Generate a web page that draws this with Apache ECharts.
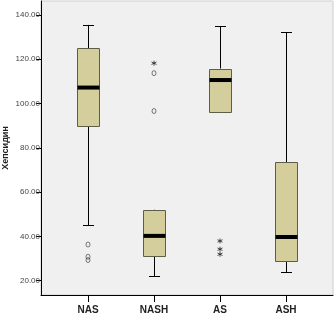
<!DOCTYPE html>
<html lang="en">
<head>
    <meta charset="UTF-8">
    <script src="https://cdn.jsdelivr.net/npm/echarts@6/dist/echarts.min.js"></script>
    <title>Хепсидин</title>
</head>
<body style="margin:0;background:#fff;">
<div id="main" style="width: 334px;height:315px;"></div>
<script type="text/javascript">
    // data
    var categories = ['NAS', 'NASH', 'AS', 'ASH'];
    var whiskerLow = [45.0, 22.0, 96.6, 23.9];
    var q1 = [89.9, 31.0, 96.6, 28.9];
    var median = [107.2, 40.2, 110.6, 39.7];
    var q3 = [125.0, 51.9, 115.8, 73.5];
    var whiskerHigh = [135.5, 52.0, 134.9, 132.2];
    var circleOutliers = [[0, 36.3], [0, 30.8], [0, 29.3], [1, 113.7], [1, 96.6]];
    var starOutliers = [[1, 118.2], [2, 37.9], [2, 34.2], [2, 31.9]];
    var yTicks = [20, 40, 60, 80, 100, 120, 140];
    var yMin = 13.5, yMax = 146.3;

    var boxData = categories.map(function (c, i) {
        return [i, whiskerLow[i], q1[i], median[i], q3[i], whiskerHigh[i]];
    });

    function crisp(v) { return Math.round(v) + 0.5; }

    var myChart = echarts.init(document.getElementById('main'));
    var option = {
        backgroundColor: '#fff',
        animation: false,
        textStyle: { fontFamily: 'Liberation Sans, Arial, sans-serif' },
        grid: [
            { left: 41, right: 1, top: 1, bottom: 20, show: true, backgroundColor: '#f0f0f0', borderColor: '#cfcfcf', borderWidth: 1,
              containLabel: false, outerBoundsMode: 'none' },
            { left: 55, right: 15, top: 1, bottom: 20, containLabel: false, outerBoundsMode: 'none' }
        ],
        xAxis: [
            { gridIndex: 0, type: 'value', min: 0, max: 1, axisLine: { show: true, lineStyle: { color: '#000' } },
              axisTick: { show: false }, axisLabel: { show: false }, splitLine: { show: false } },
            { gridIndex: 1, type: 'category', data: categories, axisLine: { show: false },
              axisTick: { show: true, alignWithLabel: true, length: 7, lineStyle: { color: '#000' } },
              axisLabel: { margin: 10, fontSize: 10, fontWeight: 'bold', color: '#222' } }
        ],
        yAxis: [
            { gridIndex: 0, type: 'value', min: yMin, max: yMax,
              name: 'Хепсидин', nameLocation: 'middle', nameGap: 31, nameMoveOverlap: false,
              nameTextStyle: { fontSize: 9, fontWeight: 'bold', color: '#222' },
              axisLine: { show: true, lineStyle: { color: '#000' } },
              axisTick: { show: true, length: 5, customValues: yTicks, lineStyle: { color: '#000' } },
              axisLabel: { margin: 1, fontSize: 8, color: '#444', customValues: yTicks,
                           formatter: function (v) { return v.toFixed(2); } },
              splitLine: { show: false } },
            { gridIndex: 1, type: 'value', min: yMin, max: yMax, show: false }
        ],
        series: [
            {
                type: 'custom',
                xAxisIndex: 1,
                yAxisIndex: 1,
                data: boxData,
                encode: { x: 0, y: [1, 2, 3, 4, 5] },
                renderItem: function (params, api) {
                    var x = api.value(0);
                    var lo = api.coord([x, api.value(1)]);
                    var b1 = api.coord([x, api.value(2)]);
                    var md = api.coord([x, api.value(3)]);
                    var b3 = api.coord([x, api.value(4)]);
                    var hi = api.coord([x, api.value(5)]);
                    var bw = api.size([1, 0])[0] / 3;
                    var cx = crisp(lo[0]);
                    var line = { stroke: '#000', lineWidth: 1 };
                    return {
                        type: 'group',
                        children: [
                            { type: 'line', shape: { x1: cx, y1: hi[1], x2: cx, y2: b3[1] }, style: line },
                            { type: 'line', shape: { x1: cx, y1: b1[1], x2: cx, y2: lo[1] }, style: line },
                            { type: 'line', shape: { x1: cx - bw / 4, y1: crisp(hi[1]), x2: cx + bw / 4, y2: crisp(hi[1]) }, style: line },
                            { type: 'line', shape: { x1: cx - bw / 4, y1: crisp(lo[1]), x2: cx + bw / 4, y2: crisp(lo[1]) }, style: line },
                            { type: 'rect', shape: { x: cx - bw / 2, y: crisp(b3[1]), width: bw, height: Math.round(b1[1] - b3[1]) },
                              style: { fill: '#d3ce9b', stroke: '#5e5e48', lineWidth: 1 } },
                            { type: 'rect', shape: { x: cx - bw / 2, y: md[1] - 2, width: bw, height: 4 },
                              style: { fill: '#000' } }
                        ]
                    };
                }
            },
            {
                type: 'scatter',
                xAxisIndex: 1,
                yAxisIndex: 1,
                data: circleOutliers,
                symbol: 'circle',
                symbolSize: [4, 5],
                itemStyle: { color: 'none', borderColor: '#333', borderWidth: 0.8 }
            },
            {
                type: 'scatter',
                xAxisIndex: 1,
                yAxisIndex: 1,
                data: starOutliers,
                symbol: 'path://M0,-1L0,1M-0.87,-0.5L0.87,0.5M-0.87,0.5L0.87,-0.5',
                symbolSize: 5,
                itemStyle: { color: 'none', borderColor: '#222', borderWidth: 1 }
            }
        ]
    };
    myChart.setOption(option);
</script>
</body>
</html>
